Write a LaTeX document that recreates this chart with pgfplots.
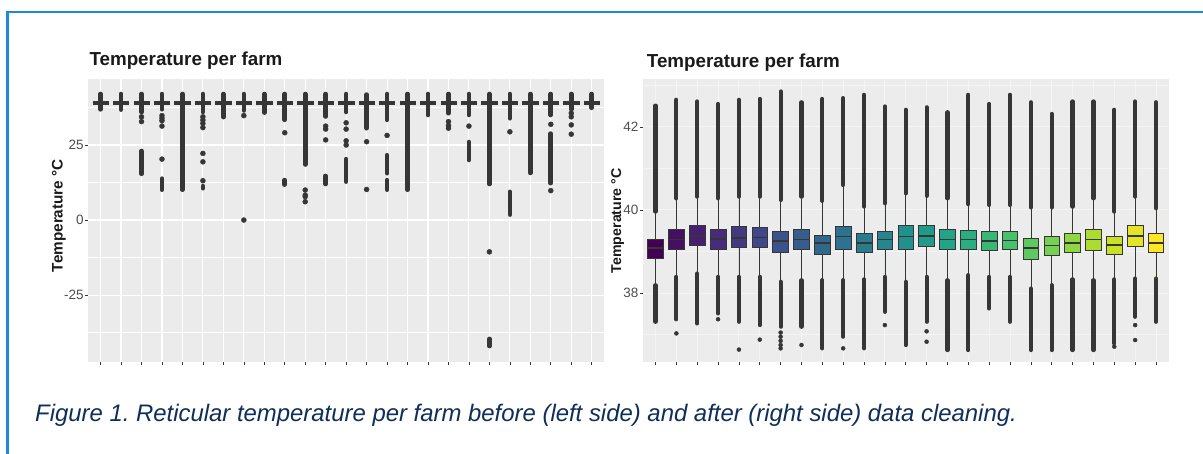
\documentclass[border=0pt]{standalone}
\usepackage{pgfplots}
\pgfplotsset{compat=1.18}
\usepackage{pgfplotstable}
\usepgfplotslibrary{statistics}
\usepackage{fontspec}
\setmainfont{Liberation Sans}
\definecolor{pbg}{HTML}{EBEBEB}
\definecolor{pbgr}{HTML}{ECECEC}
\definecolor{gridr}{HTML}{F4F4F4}
\definecolor{dk}{HTML}{363636}
\definecolor{tk}{HTML}{4D4D4D}
\definecolor{ttl}{HTML}{1A1A1A}
\definecolor{frm}{HTML}{1B8AD8}
\definecolor{cap}{HTML}{0E2F5A}
\definecolor{v1}{RGB}{68,1,84}
\definecolor{v2}{RGB}{70,16,98}
\definecolor{v3}{RGB}{71,30,112}
\definecolor{v4}{RGB}{70,44,122}
\definecolor{v5}{RGB}{67,57,129}
\definecolor{v6}{RGB}{64,70,136}
\definecolor{v7}{RGB}{59,82,138}
\definecolor{v8}{RGB}{54,93,141}
\definecolor{v9}{RGB}{49,103,141}
\definecolor{v10}{RGB}{45,114,142}
\definecolor{v11}{RGB}{40,124,142}
\definecolor{v12}{RGB}{37,135,141}
\definecolor{v13}{RGB}{33,145,140}
\definecolor{v14}{RGB}{33,155,137}
\definecolor{v15}{RGB}{34,164,133}
\definecolor{v16}{RGB}{43,174,127}
\definecolor{v17}{RGB}{57,183,119}
\definecolor{v18}{RGB}{72,193,109}
\definecolor{v19}{RGB}{95,200,97}
\definecolor{v20}{RGB}{118,208,84}
\definecolor{v21}{RGB}{144,214,67}
\definecolor{v22}{RGB}{172,219,49}
\definecolor{v23}{RGB}{200,224,38}
\definecolor{v24}{RGB}{226,228,37}
\definecolor{v25}{RGB}{253,231,37}

% Left panel: dense outlier / whisker ranges (nan separates segments)
\pgfplotstableread{
x y
1 36.9
1 42.0
1 nan
2 36.8
2 42.0
2 nan
3 36.0
3 42.0
3 nan
3 15.4
3 23.0
3 nan
4 36.9
4 42.0
4 nan
4 10.1
4 13.8
4 nan
5 10.1
5 42.0
5 nan
6 36.0
6 42.0
6 nan
6 10.6
6 11.3
6 nan
7 34.3
7 42.0
7 nan
8 36.5
8 42.0
8 nan
9 35.8
9 42.0
9 nan
10 33.4
10 42.0
10 nan
10 11.8
10 13.3
10 nan
11 18.5
11 42.0
11 nan
12 34.5
12 42.0
12 nan
12 12.0
12 14.7
12 nan
13 36.0
13 42.0
13 nan
13 12.8
13 20.3
13 nan
14 30.6
14 41.8
14 nan
15 33.4
15 42.0
15 nan
15 15.6
15 21.6
15 nan
15 10.1
15 13.3
15 nan
16 10.1
16 42.0
16 nan
17 35.0
17 42.0
17 nan
18 35.6
18 42.0
18 nan
19 35.0
19 42.0
19 nan
19 20.0
19 26.0
19 nan
20 12.0
20 42.0
20 nan
20 -42.0
20 -39.6
20 nan
21 33.9
21 42.0
21 nan
21 1.8
21 9.4
21 nan
22 15.7
22 42.0
22 nan
23 35.0
23 42.0
23 nan
23 12.3
23 28.8
23 nan
24 36.9
24 42.0
24 nan
25 37.4
25 42.0
}\leftsegs

% Left panel: isolated outliers
\pgfplotstableread{
x y
3 34.4
3 32.8
4 34.8
4 33.9
4 33.1
4 31.3
4 20.3
6 34.4
6 33.3
6 32.2
6 30.8
6 22.2
6 19.4
6 13.1
8 34.8
8 0
10 29.1
11 10.0
11 8.3
11 7.8
11 6.1
12 31.3
12 30.3
12 26.7
13 32.4
13 30.3
13 26.4
13 25.0
14 26.1
14 10.2
15 28.2
18 32.8
18 31.5
18 30.6
19 31.3
20 -10.6
21 29.4
23 31.9
23 9.8
24 35.6
24 34.4
24 31.7
24 28.6
}\leftdots

% Right panel: dense outlier ranges above and below the whiskers
\pgfplotstableread{
x y
1 39.96
1 42.51
1 nan
1 37.31
1 38.19
1 nan
2 40.28
2 42.65
2 nan
2 37.37
2 38.39
2 nan
3 40.32
3 42.61
3 nan
3 37.27
3 38.47
3 nan
4 40.28
4 42.55
4 nan
4 37.51
4 38.39
4 nan
5 40.32
5 42.65
5 nan
5 37.31
5 38.39
5 nan
6 40.32
6 42.67
6 nan
6 37.23
6 38.39
6 nan
7 40.24
7 42.85
7 nan
7 37.19
7 38.27
7 nan
8 40.32
8 42.59
8 nan
8 37.19
8 38.31
8 nan
9 40.22
9 42.67
9 nan
9 36.67
9 38.31
9 nan
10 40.60
10 42.69
10 nan
10 36.95
10 38.31
10 nan
11 40.08
11 42.77
11 nan
11 36.67
11 38.33
11 nan
12 40.16
12 42.49
12 nan
12 37.55
12 38.39
12 nan
13 40.40
13 42.41
13 nan
13 36.75
13 38.27
13 nan
14 40.34
14 42.47
14 nan
14 37.31
14 38.39
14 nan
15 40.28
15 42.35
15 nan
15 36.63
15 38.31
15 nan
16 40.14
16 42.77
16 nan
16 36.63
16 38.43
16 nan
17 40.12
17 42.55
17 nan
17 37.63
17 38.39
17 nan
18 40.12
18 42.77
18 nan
18 37.31
18 38.39
18 nan
19 40.06
19 42.59
19 nan
19 36.63
19 38.11
19 nan
20 40.06
20 42.31
20 nan
20 36.63
20 38.19
20 nan
21 40.08
21 42.61
21 nan
21 36.63
21 38.33
21 nan
22 40.28
22 42.61
22 nan
22 36.63
22 38.31
22 nan
23 39.96
23 42.41
23 nan
23 36.79
23 38.33
23 nan
24 40.32
24 42.61
24 nan
24 37.43
24 38.35
24 nan
25 40.04
25 42.59
25 nan
25 37.31
25 38.35
}\rightsegs

\pgfplotstableread{
x y
2 37.03
4 37.37
5 36.64
6 36.88
7 37.05
7 36.95
7 36.85
7 36.75
7 36.67
8 36.75
10 36.67
12 37.23
14 37.08
14 36.83
23 36.71
24 37.23
24 36.87
}\rightdots

\pgfplotsset{
  gg/.style={
    scale only axis, anchor=south west,
    axis line style={draw=none},
    tick align=outside, major tick length=3pt, minor tick length=0pt,
    tick pos=left,
    grid=both,
    major grid style={white, line width=1.1pt},
    minor grid style={white, line width=0.55pt},
    tick style={color=dk, line width=0.6pt},
    xtick={1,...,25}, xticklabel=\empty,
    xmin=0.4, xmax=25.6,
    /pgf/number format/assume math mode=true,
    yticklabel style={font=\fontsize{13.5}{16}\selectfont, text=tk, inner sep=1.5pt},
    title style={at={(axis description cs:0,1)}, anchor=base west, inner sep=0pt,
      font=\bfseries\fontsize{18.8}{22}\selectfont, text=ttl},
    ylabel style={anchor=center, font=\bfseries\fontsize{15.3}{18}\selectfont, text=ttl},
    boxplot/draw direction=y,
    boxplot/every median/.style={line width=1.6pt},
  },
  rb/.style={draw=dk, line width=0.7pt, boxplot prepared={box extend=0.75, whisker extend=0}},
}

\begin{document}
\begin{tikzpicture}
\path[use as bounding box] (0pt,0pt) rectangle (1203pt,454pt);
\fill[white] (0pt,0pt) rectangle (1203pt,454pt);
\draw[frm, line width=2.4pt] (7.5pt,-5pt) -- (7.5pt,442pt) -- (1210pt,442pt);

% ---------------- left panel ----------------
\begin{axis}[gg,
  at={(88.3pt,92.3pt)}, width=515.7pt, height=282.4pt,
  axis background/.style={fill=pbg},
  ymin=-47.2, ymax=46.9,
  ytick={-25,0,25}, minor ytick={-37.5,-12.5,12.5,37.5},
  title={Temperature per farm},
  title style={xshift=1pt, yshift=7.3pt},
  ylabel={Temperature °C},
  ylabel style={at={(axis description cs:-0.057,0.517)}},
]
\pgfplotsinvokeforeach{1,...,25}{
  \addplot[draw=dk, fill=dk, line width=0.6pt,
    boxplot prepared={draw position=#1, box extend=0.75, whisker extend=0,
      lower whisker=38.4, lower quartile=38.4, median=39.0,
      upper quartile=39.6, upper whisker=39.6}] coordinates {};
}
\addplot[dk, line width=4.6pt, line cap=round, unbounded coords=jump] table[x=x, y=y] {\leftsegs};
\addplot[only marks, mark=*, mark size=2.5pt, dk, mark options={draw=dk, fill=dk}] table[x=x, y=y] {\leftdots};
\end{axis}

% ---------------- right panel ----------------
\begin{axis}[gg,
  at={(643pt,91.5pt)}, width=525.5pt, height=283.5pt,
  axis background/.style={fill=pbgr},
  major grid style={gridr, line width=0.9pt},
  minor grid style={gridr, line width=0.5pt},
  ymin=36.33, ymax=43.15,
  ytick={38,40,42}, minor ytick={37,39,41,43},
  title={Temperature per farm},
  title style={xshift=3.7pt, yshift=5.6pt},
  ylabel={Temperature °C},
  ylabel style={at={(axis description cs:-0.0485,0.5)}, font=\bfseries\fontsize{14.2}{17}\selectfont},
]
\addplot[dk, line width=4.2pt, line cap=round, unbounded coords=jump] table[x=x, y=y] {\rightsegs};
\addplot[only marks, mark=*, mark size=2pt, dk, mark options={draw=dk, fill=dk}] table[x=x, y=y] {\rightdots};
\addplot[rb, fill=v1,  boxplot prepared={draw position=1,  lower whisker=38.19, lower quartile=38.84, median=39.08, upper quartile=39.29, upper whisker=39.96}] coordinates {};
\addplot[rb, fill=v2,  boxplot prepared={draw position=2,  lower whisker=38.39, lower quartile=39.06, median=39.29, upper quartile=39.53, upper whisker=40.28}] coordinates {};
\addplot[rb, fill=v3,  boxplot prepared={draw position=3,  lower whisker=38.47, lower quartile=39.16, median=39.38, upper quartile=39.62, upper whisker=40.32}] coordinates {};
\addplot[rb, fill=v4,  boxplot prepared={draw position=4,  lower whisker=38.39, lower quartile=39.06, median=39.30, upper quartile=39.53, upper whisker=40.28}] coordinates {};
\addplot[rb, fill=v5,  boxplot prepared={draw position=5,  lower whisker=38.39, lower quartile=39.10, median=39.33, upper quartile=39.60, upper whisker=40.32}] coordinates {};
\addplot[rb, fill=v6,  boxplot prepared={draw position=6,  lower whisker=38.39, lower quartile=39.10, median=39.34, upper quartile=39.57, upper whisker=40.32}] coordinates {};
\addplot[rb, fill=v7,  boxplot prepared={draw position=7,  lower whisker=38.27, lower quartile=38.98, median=39.25, upper quartile=39.48, upper whisker=40.24}] coordinates {};
\addplot[rb, fill=v8,  boxplot prepared={draw position=8,  lower whisker=38.31, lower quartile=39.05, median=39.29, upper quartile=39.53, upper whisker=40.32}] coordinates {};
\addplot[rb, fill=v9,  boxplot prepared={draw position=9,  lower whisker=38.31, lower quartile=38.94, median=39.20, upper quartile=39.40, upper whisker=40.22}] coordinates {};
\addplot[rb, fill=v10, boxplot prepared={draw position=10, lower whisker=38.31, lower quartile=39.06, median=39.36, upper quartile=39.61, upper whisker=40.60}] coordinates {};
\addplot[rb, fill=v11, boxplot prepared={draw position=11, lower whisker=38.33, lower quartile=38.98, median=39.21, upper quartile=39.44, upper whisker=40.08}] coordinates {};
\addplot[rb, fill=v12, boxplot prepared={draw position=12, lower whisker=38.39, lower quartile=39.04, median=39.29, upper quartile=39.48, upper whisker=40.16}] coordinates {};
\addplot[rb, fill=v13, boxplot prepared={draw position=13, lower whisker=38.27, lower quartile=39.06, median=39.36, upper quartile=39.64, upper whisker=40.40}] coordinates {};
\addplot[rb, fill=v14, boxplot prepared={draw position=14, lower whisker=38.39, lower quartile=39.12, median=39.37, upper quartile=39.62, upper whisker=40.34}] coordinates {};
\addplot[rb, fill=v15, boxplot prepared={draw position=15, lower whisker=38.31, lower quartile=39.04, median=39.29, upper quartile=39.54, upper whisker=40.28}] coordinates {};
\addplot[rb, fill=v16, boxplot prepared={draw position=16, lower whisker=38.43, lower quartile=39.06, median=39.29, upper quartile=39.51, upper whisker=40.14}] coordinates {};
\addplot[rb, fill=v17, boxplot prepared={draw position=17, lower whisker=38.39, lower quartile=39.02, median=39.25, upper quartile=39.48, upper whisker=40.12}] coordinates {};
\addplot[rb, fill=v18, boxplot prepared={draw position=18, lower whisker=38.39, lower quartile=39.04, median=39.26, upper quartile=39.49, upper whisker=40.12}] coordinates {};
\addplot[rb, fill=v19, boxplot prepared={draw position=19, lower whisker=38.11, lower quartile=38.81, median=39.09, upper quartile=39.32, upper whisker=40.06}] coordinates {};
\addplot[rb, fill=v20, boxplot prepared={draw position=20, lower whisker=38.19, lower quartile=38.90, median=39.14, upper quartile=39.36, upper whisker=40.06}] coordinates {};
\addplot[rb, fill=v21, boxplot prepared={draw position=21, lower whisker=38.33, lower quartile=38.98, median=39.20, upper quartile=39.44, upper whisker=40.08}] coordinates {};
\addplot[rb, fill=v22, boxplot prepared={draw position=22, lower whisker=38.31, lower quartile=39.02, median=39.29, upper quartile=39.54, upper whisker=40.28}] coordinates {};
\addplot[rb, fill=v23, boxplot prepared={draw position=23, lower whisker=38.33, lower quartile=38.94, median=39.16, upper quartile=39.36, upper whisker=39.96}] coordinates {};
\addplot[rb, fill=v24, boxplot prepared={draw position=24, lower whisker=38.35, lower quartile=39.12, median=39.37, upper quartile=39.62, upper whisker=40.32}] coordinates {};
\addplot[rb, fill=v25, boxplot prepared={draw position=25, lower whisker=38.35, lower quartile=38.98, median=39.21, upper quartile=39.44, upper whisker=40.04}] coordinates {};
\end{axis}

\node[anchor=base west, inner sep=0pt, text=cap, font=\itshape\fontsize{23.9}{28}\selectfont]
  at (35pt,32.3pt) {\frenchspacing Figure 1. Reticular temperature per farm before (left side) and after (right side) data cleaning.};
\end{tikzpicture}
\end{document}
